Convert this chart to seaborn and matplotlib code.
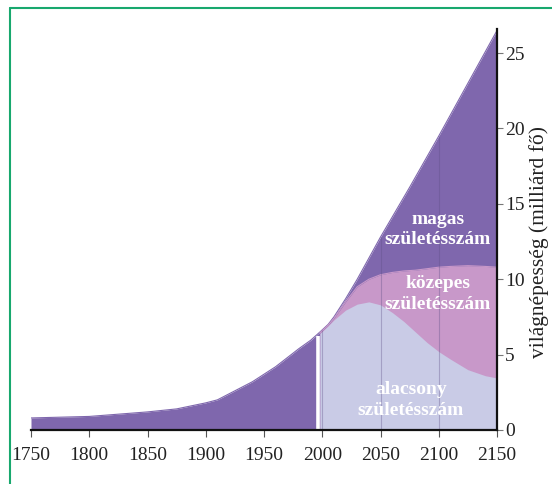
import numpy as np
import pandas as pd
import matplotlib
matplotlib.use("Agg")
import matplotlib.pyplot as plt
import seaborn as sns

# World population (billion people): history and three fertility scenarios
years_high = [1750, 1800, 1850, 1875, 1900, 1910, 1925, 1940, 1950, 1960, 1970,
              1980, 1990, 1998, 2005, 2010, 2020, 2030, 2040, 2050, 2075,
              2100, 2125, 2150]
pop_high = [0.8, 0.9, 1.2, 1.4, 1.8, 2.0, 2.6, 3.2, 3.7, 4.2, 4.8,
            5.4, 5.95, 6.5, 7.0, 7.5, 8.7, 10.0, 11.4, 12.8, 16.1,
            19.5, 23.0, 26.5]

years_proj = [1998, 2005, 2010, 2020, 2030, 2040, 2050, 2060, 2070, 2080,
              2090, 2100, 2110, 2125, 2140, 2150]
pop_medium = [6.45, 6.95, 7.4, 8.5, 9.5, 10.0, 10.3, 10.45, 10.55, 10.6,
              10.7, 10.8, 10.85, 10.9, 10.85, 10.8]
pop_low = [6.4, 6.9, 7.3, 7.95, 8.35, 8.5, 8.3, 7.8, 7.2, 6.5,
           5.8, 5.2, 4.7, 4.0, 3.6, 3.45]

x_ticks = [1750, 1800, 1850, 1900, 1950, 2000, 2050, 2100, 2150]
y_ticks = [0, 5, 10, 15, 20, 25]
grid_years = [2000, 2050, 2100]
break_year = 1996.5
y_title = "világnépesség (milliárd fő)"

labels = {
    "high": ("magas\nszületésszám", 2099, 13.3),
    "medium": ("közepes\nszületésszám", 2099, 9.0),
    "low": ("alacsony\nszületésszám", 2076, 2.0),
}

PURPLE = "#7f67ad"
PINK = "#c898c9"
BLUE = "#c9cbe6"

sns.set_theme(style="white")
plt.rcParams["font.family"] = ["Liberation Serif", "DejaVu Serif"]

high_df = pd.DataFrame({"year": years_high, "pop": pop_high})
proj_df = pd.DataFrame({"year": years_proj, "medium": pop_medium, "low": pop_low})

fig = plt.figure(figsize=(5.52, 4.84), dpi=100)
ax = fig.add_axes([31 / 552, 54 / 484, 466 / 552, 401 / 484])

# stacked scenario areas
ax.fill_between(high_df["year"], 0, high_df["pop"], color=PURPLE, lw=0, zorder=1)
ax.fill_between(proj_df["year"], 0, proj_df["medium"], color=PINK, lw=0, zorder=2)
ax.fill_between(proj_df["year"], 0, proj_df["low"], color=BLUE, lw=0, zorder=3)
sns.lineplot(data=high_df, x="year", y="pop", color=PURPLE, lw=0.8, ax=ax, zorder=4)
sns.lineplot(data=proj_df, x="year", y="medium", color=PINK, lw=0.8, ax=ax, zorder=4)

# separator between history and projections
ax.vlines(break_year, 0, np.interp(break_year, years_high, pop_high) - 0.15,
          color="white", lw=2.6, zorder=5)

# faint year guides inside the areas
for gy in grid_years:
    ax.vlines(gy, 0, np.interp(gy, years_high, pop_high), color="#5d4f85",
              alpha=0.35, lw=0.8, zorder=5)

for text, tx, ty in labels.values():
    ax.text(tx, ty, text, color="white", fontsize=14, fontweight="bold",
            ha="center", va="center", linespacing=1.3, zorder=6)

ax.set_xlim(1750, 2150)
ax.set_ylim(0, 26.6)
ax.set_xticks(x_ticks)
ax.set_yticks(y_ticks)
ax.yaxis.tick_right()
ax.set_xlabel("")
ax.set_ylabel("")

# vertical axis title on the right-hand side
fig.text(539 / 552, 1 - 242 / 484, y_title, rotation=90, fontsize=15.5,
         color="#222222", ha="center", va="center")

for side in ["top", "left"]:
    ax.spines[side].set_visible(False)
for side in ["bottom", "right"]:
    ax.spines[side].set_color("#111111")
    ax.spines[side].set_linewidth(1.6)
    ax.spines[side].set_zorder(7)

ax.tick_params(axis="x", direction="out", length=5, width=0.8, color="#555555",
               labelsize=14, labelcolor="#222222", pad=7, bottom=True)
ax.tick_params(axis="y", direction="out", length=4, width=0.8, color="#777777",
               labelsize=14, labelcolor="#222222", pad=2, right=True, left=False)
ax.grid(False)
ax.set_facecolor("white")
ax.patch.set_alpha(0)

# green frame along the top and left edges
frame_color = "#18a86e"
fig.add_artist(plt.Line2D([9.5 / 552, 1.0], [1 - 8 / 484, 1 - 8 / 484],
                          transform=fig.transFigure, color=frame_color, lw=1.5))
fig.add_artist(plt.Line2D([9.5 / 552, 9.5 / 552], [0.0, 1 - 8 / 484],
                          transform=fig.transFigure, color=frame_color, lw=1.5))

fig.savefig("out.png", dpi=100)
